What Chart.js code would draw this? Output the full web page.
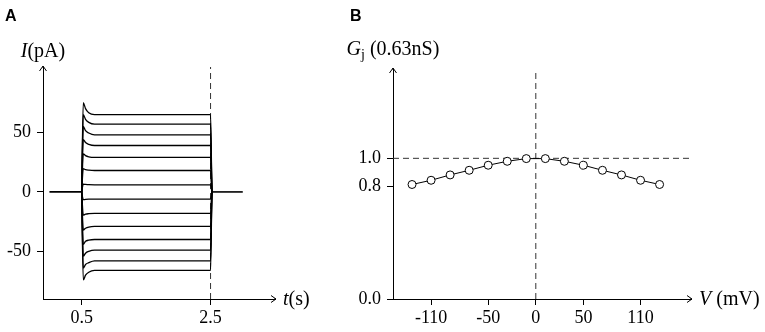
<!DOCTYPE html>
<html>
<head>
<meta charset="utf-8">
<script src="https://cdn.jsdelivr.net/npm/chart.js@4.4.1/dist/chart.umd.min.js"></script>
<style>
  html, body { margin: 0; padding: 0; background: #fff; }
  #wrap { position: relative; width: 765px; height: 332px; }
  canvas { position: absolute; top: 0; }
</style>
</head>
<body>
<div id="wrap">
  <canvas id="chartA" width="330" height="332" style="left:0"></canvas>
  <canvas id="chartB" width="435" height="332" style="left:330px"></canvas>
</div>
<script>
// Panel A: current traces, one per voltage step (+130 mV down to -130 mV)
const traceTimes = [0.5, 0.525, 0.56, 0.61, 0.7, 2.5, 2.52];
const traceCurrents = [
  [0, 75, 70, 66.5, 65, 65, 0],
  [0, 65, 61, 58.5, 57, 57, 0],
  [0, 55, 51.5, 49.5, 48, 48, 0],
  [0, 44, 41.5, 40, 39, 39, 0],
  [0, 32, 30.5, 29.5, 29, 29, 0],
  [0, 19.5, 18.7, 18.3, 18, 18, 0],
  [0, 6.5, 6.3, 6.1, 6, 6, 0],
  [0, -6.5, -6.3, -6.1, -6, -6, 0],
  [0, -19.5, -18.7, -18.3, -18, -18, 0],
  [0, -32, -30.5, -29.5, -29, -29, 0],
  [0, -44, -41.5, -40.5, -40, -40, 0],
  [0, -54, -51.5, -50, -49, -49, 0],
  [0, -64, -61, -59.5, -58, -58, 0],
  [0, -74, -70, -67.5, -66, -66, 0]
];
const baselineBefore = [0, 0.5];
const baselineAfter = [2.52, 3.0];
const tTicks = [0.5, 2.5];
const iTicks = [-50, 0, 50];

// Panel B: normalised junctional conductance
const voltages = [-130, -110, -90, -70, -50, -30, -10, 10, 30, 50, 70, 90, 110, 130];
const conductance = [0.814, 0.844, 0.882, 0.915, 0.951, 0.979, 0.998, 0.998, 0.979, 0.951, 0.915, 0.882, 0.844, 0.814];
const vTicks = [-110, -50, 0, 50, 110];
const gTicks = [0.0, 0.8, 1.0];

const serif = "'Liberation Serif', 'Times New Roman', serif";
const tickFont = { family: serif, size: 18 };

function drawRuns(ctx, runs, x, y, align) {
  // runs: [text, italic, size, dy]
  let total = 0;
  runs.forEach(r => {
    ctx.font = (r[1] ? "italic " : "") + r[2] + "px " + serif;
    total += ctx.measureText(r[0]).width;
  });
  let cx = align === "center" ? x - total / 2 : x;
  ctx.textBaseline = "alphabetic";
  ctx.textAlign = "left";
  runs.forEach(r => {
    ctx.font = (r[1] ? "italic " : "") + r[2] + "px " + serif;
    ctx.fillText(r[0], cx, y + (r[3] || 0));
    cx += ctx.measureText(r[0]).width;
  });
}

// arrows, axis titles and the panel letter
function axesDecor(letter, letterX, yRuns, yTitleY, xRuns) {
  return {
    id: "axesDecor",
    afterDraw(chart) {
      const ctx = chart.ctx;
      const a = chart.chartArea;
      ctx.save();
      ctx.strokeStyle = "#000";
      ctx.fillStyle = "#000";
      ctx.lineWidth = 1;
      ctx.beginPath();
      ctx.moveTo(a.left, a.top + 1);
      ctx.lineTo(a.left, a.top - 1);
      ctx.moveTo(a.left - 3.5, a.top + 4);
      ctx.lineTo(a.left, a.top - 1);
      ctx.lineTo(a.left + 3.5, a.top + 4);
      ctx.moveTo(a.right - 1, a.bottom);
      ctx.lineTo(a.right + 1, a.bottom);
      ctx.moveTo(a.right - 4, a.bottom - 3.5);
      ctx.lineTo(a.right + 1, a.bottom);
      ctx.lineTo(a.right - 4, a.bottom + 3.5);
      ctx.stroke();

      drawRuns(ctx, yRuns, a.left, yTitleY, "center");
      drawRuns(ctx, xRuns, a.right + 8, a.bottom + 6, "left");

      ctx.font = "bold 16px 'Liberation Sans', Arial, sans-serif";
      ctx.fillText(letter, letterX, 21);
      ctx.restore();
    }
  };
}

function axis(min, max, ticks, size, fmt, isX) {
  return {
    type: "linear",
    min: min,
    max: max,
    afterBuildTicks: s => { s.ticks = ticks.map(v => ({ value: v })); },
    afterFit: s => { if (isX) { s.height = size; } else { s.width = size; } },
    ticks: { color: "#000", font: tickFont, padding: isX ? 2 : 6, callback: fmt },
    grid: { drawOnChartArea: false, drawTicks: true, tickLength: 6, color: "#000", lineWidth: 1 },
    border: { display: true, color: "#000", width: 1 }
  };
}

const traceSets = traceCurrents.map(row => ({
  data: row.map((v, i) => ({ x: traceTimes[i], y: v })),
  borderColor: "#000",
  borderWidth: 1.3,
  pointRadius: 0,
  cubicInterpolationMode: "monotone"
}));

const configA = {
  type: "line",
  data: {
    datasets: [
      ...traceSets,
      { data: baselineBefore.map(t => ({ x: t, y: 0 })), borderColor: "#000", borderWidth: 1.6, pointRadius: 0 },
      { data: baselineAfter.map(t => ({ x: t, y: 0 })), borderColor: "#000", borderWidth: 1.6, pointRadius: 0 },
      { data: [{ x: 2.5, y: -90 }, { x: 2.5, y: 105 }], borderColor: "#333", borderWidth: 1, borderDash: [6, 4], pointRadius: 0 }
    ]
  },
  options: {
    responsive: false,
    animation: false,
    layout: { padding: { top: 67, right: 55, left: 0, bottom: 0 } },
    plugins: { legend: { display: false }, tooltip: { enabled: false } },
    scales: {
      x: axis(-0.1, 3.5, tTicks, 33, v => v.toFixed(1), true),
      y: axis(-90, 105, iTicks, 43, v => String(v), false)
    }
  },
  plugins: [axesDecor("A", 5, [["I", true, 20], ["(pA)", false, 20]], 57, [["t", true, 20], ["(s)", false, 20]])]
};

const configB = {
  type: "line",
  data: {
    datasets: [
      {
        data: voltages.map((v, i) => ({ x: v, y: conductance[i] })),
        borderColor: "#000",
        borderWidth: 1,
        pointRadius: 4,
        pointBorderWidth: 1,
        pointBackgroundColor: "#fff",
        pointBorderColor: "#000"
      },
      { data: [{ x: -150, y: 1.0 }, { x: 163, y: 1.0 }], borderColor: "#333", borderWidth: 1, borderDash: [6, 4], pointRadius: 0 },
      { data: [{ x: 0, y: 0 }, { x: 0, y: 1.635 }], borderColor: "#333", borderWidth: 1, borderDash: [6, 4], pointRadius: 0 }
    ]
  },
  options: {
    responsive: false,
    animation: false,
    layout: { padding: { top: 69, right: 74, left: 0, bottom: 0 } },
    plugins: { legend: { display: false }, tooltip: { enabled: false } },
    scales: {
      x: axis(-150, 163, vTicks, 33, v => String(v), true),
      y: axis(0, 1.635, gTicks, 63, v => v.toFixed(1), false)
    }
  },
  plugins: [axesDecor("B", 20, [["G", true, 20], ["j", false, 14, 4], [" (0.63nS)", false, 20]], 55, [["V", true, 20], [" (mV)", false, 20]])]
};

new Chart("chartA", configA);
new Chart("chartB", configB);
</script>
</body>
</html>
